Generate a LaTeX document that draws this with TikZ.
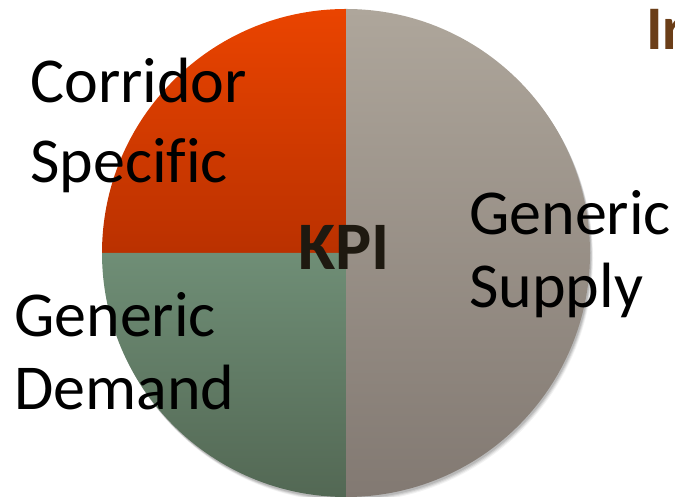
\documentclass[tikz,border=0pt]{standalone}
\usepackage{fontspec}
\setmainfont{Carlito}[Ligatures=NoCommon]
\usepackage{tikz}
\usetikzlibrary{positioning,calc}

\definecolor{corrTop}{HTML}{EA4400}
\definecolor{corrBot}{HTML}{BA3100}
\definecolor{suppTop}{HTML}{AEA69B}
\definecolor{suppBot}{HTML}{827972}
\definecolor{demTop}{HTML}{6F8E76}
\definecolor{demBot}{HTML}{536854}
\definecolor{kpiText}{HTML}{1E1910}
\definecolor{titleBrown}{HTML}{6B3E18}

\begin{document}
\begin{tikzpicture}[
    x=1pt, y=1pt,
    lbl/.style={anchor=base west, align=left, inner sep=0pt,
                font=\fontsize{64}{73}\selectfont},
    kpi/.style={anchor=base, inner sep=0pt, text=kpiText,
                font=\fontsize{68}{80}\selectfont\bfseries},
    ttl/.style={anchor=base west, inner sep=0pt, text=titleBrown,
                font=\fontsize{62}{74}\selectfont\bfseries}
]
\useasboundingbox (0,0) rectangle (675,497);
\clip (0,0) rectangle (675,497);

\coordinate (c) at (346,244);

% soft shadow
\foreach \d/\o in {5/0.05,4/0.07,3/0.09,2/0.1}
  \fill[black, opacity=\o] ($(c)+(\d*0.6,-\d)$) circle (244);

% slices
\shade[top color=suppTop, bottom color=suppBot]
  (c) -- ++(90:244) arc (90:-90:244) -- cycle;
\shade[top color=corrTop, bottom color=corrBot]
  (c) -- ++(180:244) arc (180:90:244) -- cycle;
\shade[top color=demTop, bottom color=demBot]
  (c) -- ++(270:244) arc (270:180:244) -- cycle;

% labels (anchored on the last line)
\node[lbl, font=\fontsize{64}{80}\selectfont] (corridor) at (30,314) {Corridor\\Specific};
\node[lbl] (demand) at (14,87) {Generic\\Demand};
\node[lbl] (supply) at (469,189) {Generic\\Supply};
\node[kpi] (kpi) at (344,227) {KPI};
\node[ttl] (title) at (646,447) {Ir};
\end{tikzpicture}
\end{document}
